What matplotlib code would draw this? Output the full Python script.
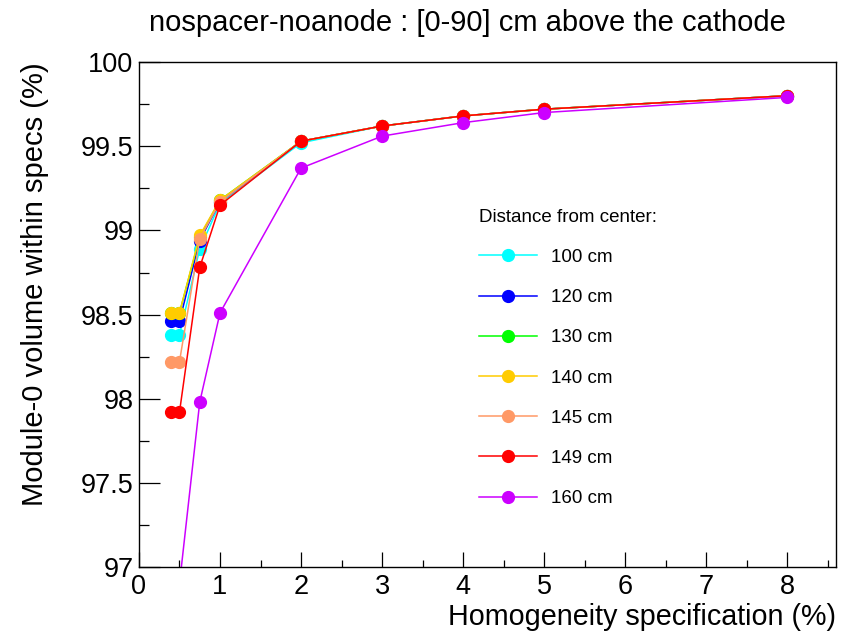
import matplotlib
matplotlib.use("Agg")
import matplotlib.pyplot as plt
from matplotlib.ticker import MultipleLocator, FuncFormatter

plt.rcParams['font.family'] = ['Liberation Sans', 'DejaVu Sans']

spec = [0.4, 0.5, 0.75, 1, 2, 3, 4, 5, 8]

labels = ["100 cm", "120 cm", "130 cm", "140 cm", "145 cm", "149 cm", "160 cm"]
colors = ["#00ffff", "#0000ff", "#00ff00", "#ffcc00", "#ff9966", "#ff0000", "#cc00ff"]

v100 = [98.38, 98.38, 98.89, 99.16, 99.52, 99.62, 99.68, 99.72, 99.80]
v120 = [98.46, 98.46, 98.94, 99.17, 99.53, 99.62, 99.68, 99.72, 99.80]
v130 = [98.51, 98.51, 98.96, 99.18, 99.53, 99.62, 99.68, 99.72, 99.80]
v140 = [98.51, 98.51, 98.97, 99.18, 99.53, 99.62, 99.68, 99.72, 99.80]
v145 = [98.22, 98.22, 98.95, 99.17, 99.53, 99.62, 99.68, 99.72, 99.80]
v149 = [97.92, 97.92, 98.78, 99.15, 99.53, 99.62, 99.68, 99.72, 99.80]
v160 = [96.5, 96.9, 97.98, 98.51, 99.37, 99.56, 99.64, 99.70, 99.79]
series = [v100, v120, v130, v140, v145, v149, v160]

fig = plt.figure(figsize=(8.63, 6.33), dpi=100)
ax = fig.add_axes([0.161, 0.104, 0.8077, 0.798])

for vals, lab, col in zip(series, labels, colors):
    ax.plot(spec, vals, color=col, lw=1.1, marker="o", ms=8.5, label=lab)

ax.set_xlim(0, 8.6)
ax.set_ylim(97, 100)
ax.xaxis.set_major_locator(MultipleLocator(1))
ax.xaxis.set_minor_locator(MultipleLocator(0.5))
ax.yaxis.set_major_locator(MultipleLocator(0.5))
ax.yaxis.set_minor_locator(MultipleLocator(0.25))
ax.yaxis.set_major_formatter(FuncFormatter(lambda v, p: f"{v:g}"))
ax.tick_params(which="both", direction="in", top=False, right=False, labelsize=19.5, width=0.9)
ax.tick_params(axis="x", which="major", length=10.8, pad=5)
ax.tick_params(axis="x", which="minor", length=5.4)
ax.tick_params(axis="y", which="major", length=15, pad=4)
ax.tick_params(axis="y", which="minor", length=7.5)
for s in ax.spines.values():
    s.set_linewidth(1.0)

ax.set_xlabel("Homogeneity specification (%)", fontsize=20.7, loc="right")
ax.set_ylabel("Module-0 volume within specs (%)", fontsize=21, loc="top")
ax.xaxis.set_label_coords(1.0, -0.07)
ax.yaxis.set_label_coords(-0.129, 1.0)
fig.text(0.542, 0.964, "nospacer-noanode : [0-90] cm above the cathode", fontsize=21,
         ha="center", va="center")

leg = ax.legend(title="Distance from center:", loc="upper left",
                bbox_to_anchor=(0.5445, 0.685), bbox_transform=fig.transFigure,
                frameon=False, fontsize=13.5, title_fontsize=13.5,
                handlelength=3.1, handletextpad=0.7, labelspacing=1.23,
                borderpad=0, alignment="left")

fig.savefig("out.png", dpi=100)
